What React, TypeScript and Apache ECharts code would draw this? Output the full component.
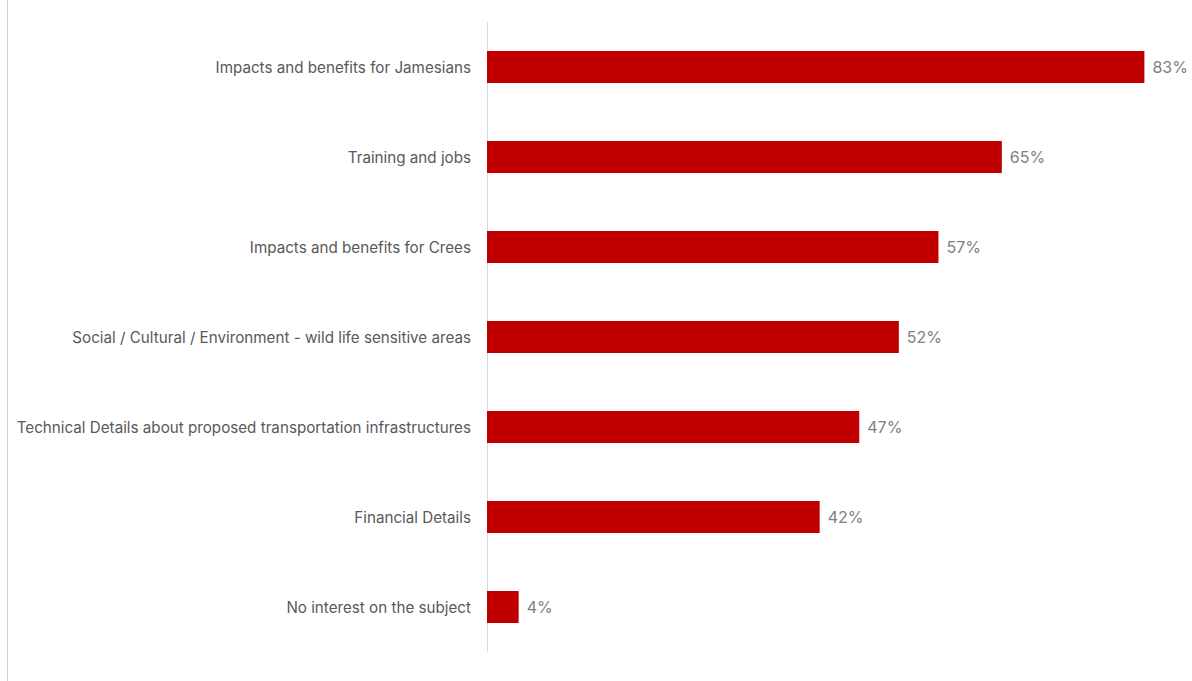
import React, { useEffect, useRef } from "react";
import * as echarts from "echarts";

const categories = [
  "Impacts and benefits for Jamesians",
  "Training and jobs",
  "Impacts and benefits for Crees",
  "Social / Cultural / Environment - wild life sensitive areas",
  "Technical Details about proposed transportation infrastructures",
  "Financial Details",
  "No interest on the subject",
];
const values = [83, 65, 57, 52, 47, 42, 4];

export default function App() {
  const ref = useRef<HTMLDivElement>(null);
  useEffect(() => {
    const chart = echarts.init(ref.current!, undefined, { renderer: "svg" });
    chart.setOption({
      animation: false,
      backgroundColor: "#ffffff",
      textStyle: { fontFamily: "Inter" },
      grid: { left: 487, right: 8, top: 22, bottom: 29, containLabel: false },
      xAxis: {
        type: "value",
        min: 0,
        max: 88,
        show: false,
      },
      yAxis: {
        type: "category",
        data: categories,
        inverse: true,
        axisLine: { show: true, lineStyle: { color: "#d9d9d9", width: 1 } },
        axisTick: { show: false },
        axisLabel: { color: "#595959", fontSize: 15.2, margin: 16, fontFamily: "Inter" },
        splitLine: { show: false },
      },
      graphic: [
        {
          type: "line",
          shape: { x1: 7.5, y1: 0, x2: 7.5, y2: 681 },
          style: { stroke: "#d0d0d0", lineWidth: 1 },
        },
      ],
      series: [
        {
          type: "bar",
          data: values,
          barWidth: 32,
          itemStyle: { color: "#c00000" },
          label: {
            show: true,
            position: "right",
            distance: 8,
            formatter: "{c}%",
            color: "#808080",
            fontSize: 16,
            fontFamily: "Inter",
          },
        },
      ],
    });
    return () => chart.dispose();
  }, []);
  return (
    <div
      ref={ref}
      style={{ position: "fixed", left: 0, top: 0, width: 1192, height: 681 }}
    />
  );
}
